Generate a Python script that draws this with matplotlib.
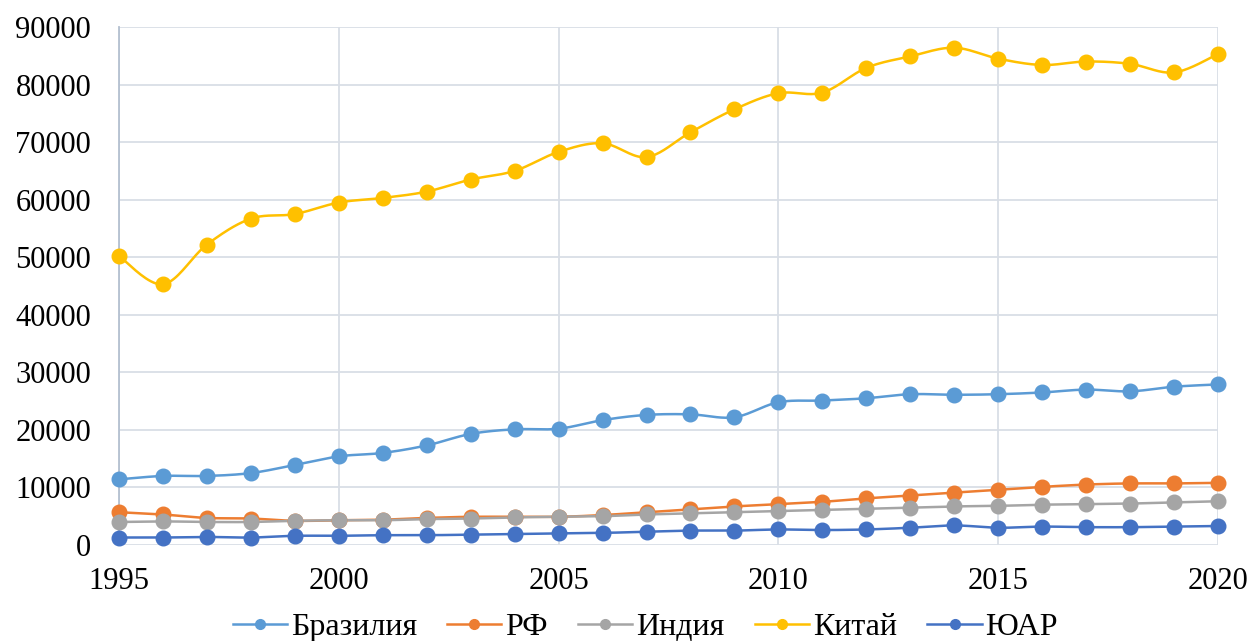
import numpy as np
import matplotlib
matplotlib.use("Agg")
import matplotlib.pyplot as plt
from matplotlib.lines import Line2D

years = list(range(1995, 2021))
brazil = [11400, 12000, 12000, 12500, 13900, 15400, 16000, 17300, 19300, 20100,
          20200, 21700, 22600, 22700, 22200, 24800, 25100, 25500, 26200, 26100,
          26200, 26500, 27000, 26700, 27500, 27900]
russia = [5700, 5300, 4700, 4600, 4200, 4300, 4400, 4700, 4900, 4900,
          4900, 5200, 5700, 6200, 6700, 7100, 7500, 8100, 8600, 9100,
          9600, 10100, 10500, 10700, 10700, 10800]
india = [4000, 4100, 4000, 4000, 4200, 4300, 4300, 4500, 4600, 4800,
         4900, 5000, 5300, 5500, 5700, 5900, 6100, 6300, 6500, 6700,
         6800, 7000, 7100, 7200, 7400, 7600]
china = [50200, 45300, 52200, 56700, 57500, 59500, 60300, 61400, 63500, 65000,
         68300, 69800, 67400, 71700, 75700, 78500, 78600, 82900, 84900, 86400,
         84500, 83400, 84000, 83600, 82100, 85300]
sar = [1300, 1300, 1400, 1300, 1600, 1600, 1700, 1700, 1800, 1900,
       2000, 2100, 2300, 2500, 2500, 2700, 2600, 2700, 3000, 3400,
       3000, 3200, 3100, 3100, 3200, 3300]

names = ["Бразилия", "РФ", "Индия", "Китай", "ЮАР"]
series = [brazil, russia, india, china, sar]
colors = ["#5B9BD5", "#ED7D31", "#A5A5A5", "#FFC000", "#4472C4"]

plt.rcParams['font.family'] = ['Liberation Serif', 'DejaVu Serif']


def smooth(x, y, n=20):
    # Excel-like smoothed line drawn through the data points
    x = np.asarray(x, float)
    y = np.asarray(y, float)
    px = np.concatenate([[x[0]], x, [x[-1]]])
    py = np.concatenate([[y[0]], y, [y[-1]]])
    xs, ys = [], []
    t = np.linspace(0, 1, n, endpoint=False)
    for i in range(1, len(px) - 2):
        p0x, p1x, p2x, p3x = px[i - 1], px[i], px[i + 1], px[i + 2]
        p0y, p1y, p2y, p3y = py[i - 1], py[i], py[i + 1], py[i + 2]
        c1x = p1x + (p2x - p0x) / 6
        c1y = p1y + (p2y - p0y) / 6
        c2x = p2x - (p3x - p1x) / 6
        c2y = p2y - (p3y - p1y) / 6
        bx = (1 - t) ** 3 * p1x + 3 * (1 - t) ** 2 * t * c1x + 3 * (1 - t) * t ** 2 * c2x + t ** 3 * p2x
        by = (1 - t) ** 3 * p1y + 3 * (1 - t) ** 2 * t * c1y + 3 * (1 - t) * t ** 2 * c2y + t ** 3 * p2y
        xs.extend(bx)
        ys.extend(by)
    xs.append(x[-1])
    ys.append(y[-1])
    return np.array(xs), np.array(ys)


fig = plt.figure(figsize=(12.53, 6.41), dpi=100)
ax = fig.add_axes([119 / 1253, 1 - 545 / 641, (1218 - 119) / 1253, (545 - 27) / 641])

for name, vals, c in zip(names, series, colors):
    sx, sy = smooth(years, vals)
    ax.plot(sx, sy, color=c, lw=1.8, zorder=3, clip_on=False)
    ax.plot(years, vals, ls='none', marker='o', ms=10.5, color=c,
            markeredgecolor=c, zorder=4, clip_on=False)

ax.set_xlim(1995, 2020)
ax.set_ylim(0, 90000)
ax.set_xticks(range(1995, 2021, 5))
ax.set_yticks(range(0, 90001, 10000))
ax.grid(True, color="#D9DEE6", lw=1.3, zorder=0)
for s in ['top', 'right', 'bottom']:
    ax.spines[s].set_visible(False)
ax.spines['left'].set_color("#B4C0D0")
ax.spines['left'].set_linewidth(1.3)
ax.tick_params(axis='both', length=0, labelsize=22, colors='black')
ax.tick_params(axis='y', pad=20)
ax.tick_params(axis='x', pad=16)

handles = [Line2D([0], [0], color=c, lw=1.8, marker='o', ms=7, markeredgecolor=c)
           for c in colors]
fig.legend(handles, names, loc='center', bbox_to_anchor=(0.515, 1 - 627 / 641),
           ncol=5, frameon=False, fontsize=23, handlelength=1.7,
           handletextpad=0.12, columnspacing=0.95, borderaxespad=0)

fig.savefig("out.png", dpi=100)
